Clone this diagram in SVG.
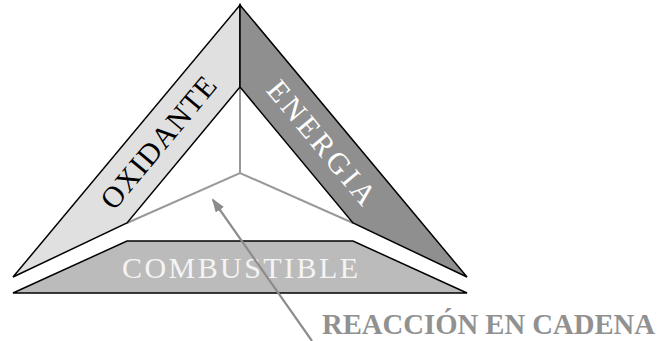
<svg xmlns="http://www.w3.org/2000/svg" width="659" height="341" viewBox="0 0 659 341">
<style>
.panel{stroke:#000;stroke-width:1.5;stroke-linejoin:miter}
.inner{stroke:#999;stroke-width:2;fill:none}
.lbl{font-family:"Liberation Serif","Times New Roman",serif;font-size:30px;text-anchor:middle}
</style>
<defs>
<marker id="ah" markerWidth="14" markerHeight="10" refX="12" refY="5" orient="auto" markerUnits="userSpaceOnUse">
<path d="M0,0 L14,5 L0,10 z" fill="#8c8c8c"/>
</marker>
</defs>
<rect width="659" height="341" fill="#fff"/>
<g id="inner-lines">
<path class="inner" d="M240,87 L240,173 M127,223 L240,173 L353,223"/>
</g>
<g id="oxidante">
<path class="panel" fill="#e0e0e0" d="M240,5 L240,87 L127,223 L13,277 Z"/>
<text class="lbl" fill="#000" transform="translate(158.4,142.6) rotate(-50.2)" x="0" y="10" textLength="163" lengthAdjust="spacing">OXIDANTE</text>
</g>
<g id="energia">
<path class="panel" fill="#8f8f8f" d="M240,5 L240,87 L353,223 L467,277 Z"/>
<text class="lbl" fill="#fff" transform="translate(321.6,142.6) rotate(50.2)" x="0" y="10" textLength="152" lengthAdjust="spacing">ENERGIA</text>
</g>
<g id="combustible">
<path class="panel" fill="#bbbbbb" d="M127,241 L353,241 L467,293 L13,293 Z"/>
<text class="lbl" fill="#f4f4f4" x="240" y="278" font-size="27" textLength="236" lengthAdjust="spacing">COMBUSTIBLE</text>
</g>
<g id="connectors">
<line x1="312" y1="341" x2="213" y2="200" stroke="#8c8c8c" stroke-width="2.2" marker-end="url(#ah)"/>
</g>
<g id="reaccion">
<text x="322" y="334" font-family="'Liberation Serif','Times New Roman',serif" font-weight="bold" font-size="29" fill="#919191" textLength="333" lengthAdjust="spacingAndGlyphs">REACCIÓN EN CADENA</text>
</g>
</svg>
